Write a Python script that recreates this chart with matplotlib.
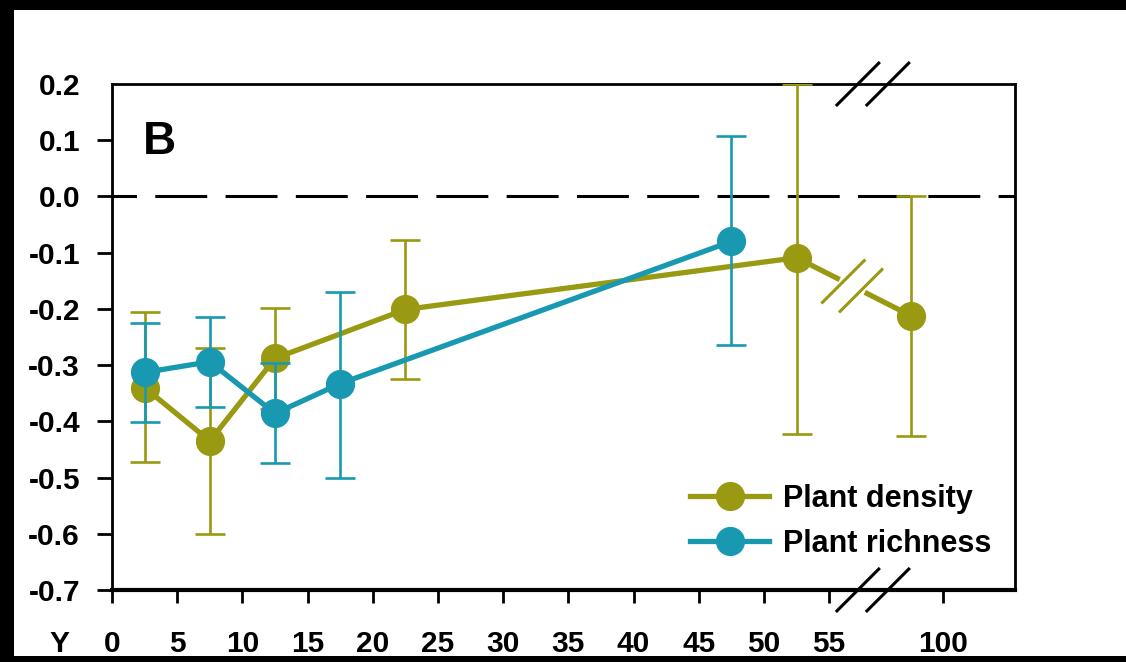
import numpy as np
import matplotlib
matplotlib.use("Agg")
import matplotlib.pyplot as plt
import matplotlib.transforms as mtransforms
from matplotlib.lines import Line2D
from matplotlib.patches import Rectangle

plt.rcParams['font.family'] = ['Liberation Sans', 'DejaVu Sans']
plt.rcParams['font.weight'] = 'bold'

# data (x = years, y = effect size with CI)
density_x = [2.5, 7.5, 12.5, 22.5, 52.5, 97.5]
density_y = [-0.34, -0.435, -0.288, -0.201, -0.109, -0.212]
density_lo = [-0.473, -0.60, -0.378, -0.324, -0.422, -0.427]
density_hi = [-0.206, -0.27, -0.199, -0.078, 0.200, 0.000]

richness_x = [2.5, 7.5, 12.5, 17.5, 47.5]
richness_y = [-0.313, -0.294, -0.386, -0.333, -0.080]
richness_lo = [-0.402, -0.375, -0.475, -0.500, -0.265]
richness_hi = [-0.226, -0.215, -0.297, -0.170, 0.107]

xtick_vals = [0, 5, 10, 15, 20, 25, 30, 35, 40, 45, 50, 55, 100]
ytick_vals = [0.2, 0.1, 0.0, -0.1, -0.2, -0.3, -0.4, -0.5, -0.6, -0.7]

OLIVE = '#999912'
TEAL = '#1899b1'

BREAK_SHIFT = 36.25  # broken axis: values past the break are shifted left


def xmap(v):
    v = np.asarray(v, dtype=float)
    return np.where(v > 60, v - BREAK_SHIFT, v)


fig = plt.figure(figsize=(11.26, 6.62), dpi=100, facecolor='black')
fig.add_artist(Rectangle((14, 6), 1126, 646, transform=mtransforms.IdentityTransform(),
                         facecolor='white', edgecolor='none', zorder=-10))
ax = fig.add_axes([0.0995, 0.1088, 0.8019, 0.7643])

ax.axhline(0, color='black', lw=2.2, linestyle=(9, (17, 6)), zorder=1)


def draw_series(x, y, lo, hi, color, label, z):
    px = xmap(x)
    y = np.asarray(y)
    err = [y - np.asarray(lo), np.asarray(hi) - y]
    ax.errorbar(px, y, yerr=err, fmt='none', ecolor=color, elinewidth=1.9,
                capsize=11, capthick=1.9, zorder=z)
    ax.plot(px, y, color=color, lw=3.8, marker='o', markersize=20,
            label=label, zorder=z + 0.5)
    return px, y


dpx, dpy = draw_series(density_x, density_y, density_lo, density_hi, OLIVE,
                       'Plant density', 3)
draw_series(richness_x, richness_y, richness_lo, richness_hi, TEAL,
            'Plant richness', 5)

ax.set_xlim(0, 69.25)
ax.set_ylim(-0.7, 0.2)
ax.set_xticks(xmap(xtick_vals))
ax.set_xticklabels([str(v) for v in xtick_vals], fontsize=21.5)
ax.set_yticks(ytick_vals)
ax.set_yticklabels(['%.1f' % v for v in ytick_vals], fontsize=21.5)

ax.tick_params(axis='x', direction='out', length=9, width=2, pad=20)
ax.tick_params(axis='y', direction='out', length=11, width=2, pad=12)
ax.yaxis.get_major_ticks()[0].tick1line.set_visible(False)
for s in ['top', 'right', 'left']:
    ax.spines[s].set_linewidth(2)
ax.spines['bottom'].set_linewidth(3)

ax.text(0.034, 0.886, 'B', transform=ax.transAxes, fontsize=33,
        fontweight='bold', ha='left', va='center')

fig.canvas.draw()
ident = mtransforms.IdentityTransform()

# "Y" sits on the same line as the x tick labels
lab0 = ax.get_xticklabels()[0]
fig.text(59 / 1126, lab0.get_position()[1], 'Y', ha='center', va='top',
         fontsize=21.5, fontweight='bold',
         transform=mtransforms.blended_transform_factory(fig.transFigure,
                                                         lab0.get_transform()))


def slash(cx, cy, color, lw, half=22):
    fig.add_artist(Line2D([cx - half, cx + half], [cy - half, cy + half],
                          color=color, lw=lw, transform=ident, zorder=20,
                          solid_capstyle='butt'))


# break on the density line between the last two points
p0 = ax.transData.transform((dpx[-2], dpy[-2]))
p1 = ax.transData.transform((dpx[-1], dpy[-1]))
g0 = p0 + 0.41 * (p1 - p0)
g1 = p0 + 0.565 * (p1 - p0)
fig.add_artist(Line2D([g0[0], g1[0]], [g0[1], g1[1]], color='white', lw=6,
                      transform=ident, zorder=19))
slash(g0[0], g0[1], OLIVE, 2.2)
slash(g1[0], g1[1], OLIVE, 2.2)

# axis break marks on top and bottom spines
for xb in (57.2, 59.5):
    for yb in (0.2, -0.7):
        bx, by = ax.transData.transform((xb, yb))
        slash(bx, by, 'black', 2.2)

ax.legend(loc='upper left', bbox_to_anchor=(0.64, 0.21), frameon=False,
          fontsize=22, handlelength=2.6, handletextpad=0.45, labelspacing=0.5,
          borderpad=0, borderaxespad=0, markerscale=1.0)

fig.savefig('out.png', dpi=100, facecolor='black')
